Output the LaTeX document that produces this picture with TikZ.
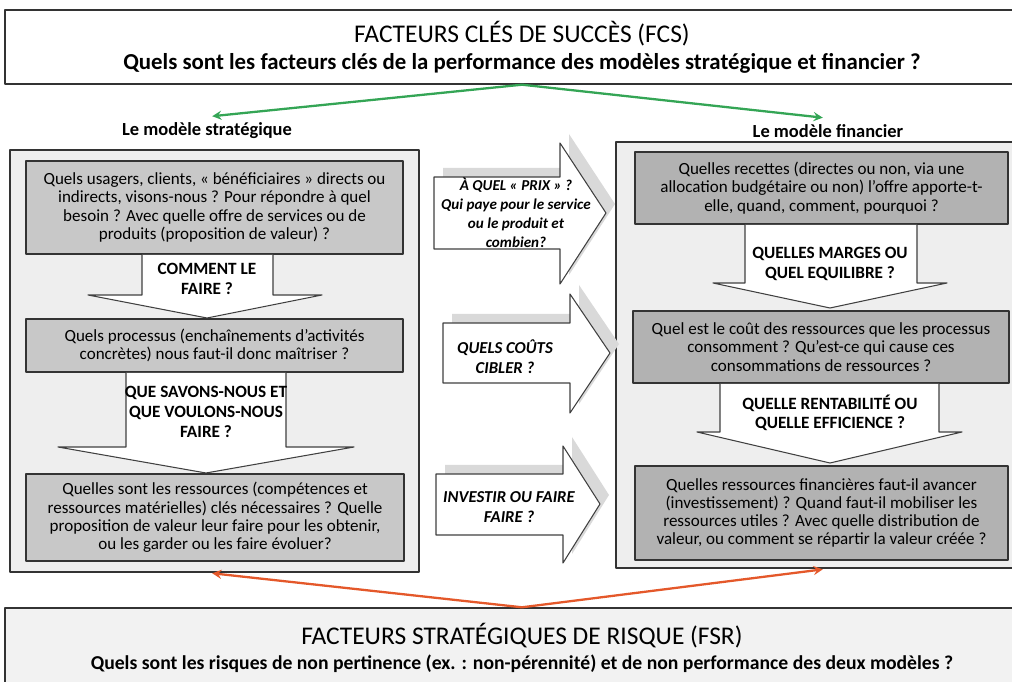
\documentclass[tikz,border=0pt]{standalone}
\usepackage{fontspec}
\setmainfont{Carlito}
\usetikzlibrary{positioning}
\definecolor{fondclair}{RGB}{238,238,238}
\definecolor{fondbas}{RGB}{242,242,242}
\definecolor{grisgauche}{RGB}{200,200,200}
\definecolor{grisdroite}{RGB}{178,178,178}
\definecolor{vertfleche}{RGB}{52,165,85}
\definecolor{orangefleche}{RGB}{228,88,42}
\begin{document}
\begin{tikzpicture}[x=0.02cm,y=-0.02cm,>=stealth, line join=round,
	cadre/.style={draw=black!80, line width=0.8pt, inner sep=0pt},
	grand/.style={cadre, fill=fondclair},
	question/.style={cadre, align=center, font=\fontsize{9.7}{10.4}\selectfont},
	bloc/.style={draw=black!75, fill=white, line width=0.6pt},
	ombre/.style={fill=black!15, draw=none},
	txtbloc/.style={align=center, font=\fontsize{9.8}{11.2}\selectfont\bfseries},
	txtmilieu/.style={align=center, font=\fontsize{9.5}{11.2}\selectfont\bfseries\itshape},
	titre/.style={font=\fontsize{10.5}{12}\selectfont\bfseries}]
	\def\u{0.02cm}
	\useasboundingbox (0,0) rectangle (1012,682);
	% cadres du haut et du bas
	\node[cadre, fill=white, minimum width=1034*\u, minimum height=74*\u, align=center] (fcs) at (522,47)
		{\fontsize{14.5}{17}\selectfont FACTEURS CLÉS DE SUCCÈS (FCS)\\[3.5pt]
		 \fontsize{13}{15}\selectfont\bfseries Quels sont les facteurs clés de la performance des modèles stratégique et financier ?};
	\node[cadre, fill=fondbas, minimum width=1034*\u, minimum height=80*\u, align=center] (fsr) at (522,648)
		{\fontsize{14.5}{17}\selectfont FACTEURS STRATÉGIQUES DE RISQUE (FSR)\\[2.5pt]
		 \fontsize{11.2}{13}\selectfont\bfseries Quels sont les risques de non pertinence (ex. : non-pérennité) et de non performance des deux modèles ?};
	\node[titre] (strat) at (207,131) {Le modèle stratégique};
	\node[titre] (fin) at (828,131) {Le modèle financier};
	% modele strategique
	\node[grand, minimum width=409*\u, minimum height=422*\u] (gauche) at (214.5,361) {};
	\node[question, fill=grisgauche, minimum width=377*\u, minimum height=93*\u] (g1) at (214.5,207.5)
		{Quels usagers, clients, « bénéficiaires » directs ou\\indirects, visons-nous  ? Pour répondre à quel\\besoin ? Avec quelle offre de services ou de\\produits (proposition de valeur) ?};
	\node[question, fill=grisgauche, minimum width=377*\u, minimum height=53*\u] (g2) at (214.5,345.5)
		{Quels processus (enchaînements d’activités\\concrètes) nous faut-il donc maîtriser ?};
	\node[question, fill=grisgauche, minimum width=378*\u, minimum height=87*\u] (g3) at (215,517.5)
		{Quelles sont les ressources (compétences et\\ressources matérielles) clés nécessaires  ? Quelle\\proposition de valeur leur faire pour les obtenir,\\ou les garder ou les faire évoluer?};
	\draw[bloc] (142,255)--(142,295)--(88,295)--(207,318)--(322,295)--(273,295)--(273,255);
	\node[txtbloc] (comment) at (207,279) {COMMENT LE\\FAIRE ?};
	\draw[bloc] (126,373)--(126,447)--(58,447)--(206,473)--(354,447)--(286,447)--(286,373);
	\node[txtbloc] (savoir) at (206,412) {QUE SAVONS-NOUS ET\\QUE VOULONS-NOUS\\FAIRE ?};
	% modele financier
	\node[grand, minimum width=424*\u, minimum height=426*\u] (droite) at (828,355) {};
	\node[question, fill=grisdroite, minimum width=373*\u, minimum height=72*\u] (d1) at (821.5,188)
		{Quelles recettes (directes ou non, via une\\allocation  budgétaire ou non) l’offre apporte-t-\\elle, quand, comment, pourquoi ?};
	\node[question, fill=grisdroite, minimum width=376*\u, minimum height=72*\u] (d2) at (821,347)
		{Quel est le coût des ressources que les processus\\consomment ? Qu’est-ce qui cause ces\\consommations de ressources ?};
	\node[question, fill=grisdroite, minimum width=373*\u, minimum height=94*\u] (d3) at (821.5,513)
		{Quelles ressources financières faut-il avancer\\(investissement) ? Quand faut-il mobiliser les\\ressources utiles ? Avec quelle distribution de\\valeur, ou comment se répartir la valeur créée ?};
	\draw[bloc] (745,225)--(745,283)--(713,283)--(830,308)--(947,283)--(917,283)--(917,225);
	\node[txtbloc] (marges) at (830,264) {QUELLES MARGES  OU\\QUEL  EQUILIBRE  ?};
	\draw[bloc] (720,384)--(720,432)--(697,432)--(830,463)--(962,432)--(939,432)--(939,384);
	\node[txtbloc] (rentab) at (830,413) {QUELLE RENTABILITÉ  OU\\QUELLE EFFICIENCE  ?};
	% fleches du milieu
	\fill[ombre, shift={(9,-9)}] (434,177)--(560,177)--(560,143)--(606,213)--(560,284)--(560,249)--(434,249)--cycle;
	\draw[bloc] (434,177)--(560,177)--(560,143)--(606,213)--(560,284)--(560,249)--(434,249)--cycle;
	\node[txtmilieu, font=\fontsize{8.6}{10.8}\selectfont\bfseries\itshape] (prix) at (516,213) {À QUEL « PRIX » ?\\Qui paye pour le service\\ou le produit et\\combien?};
	\fill[ombre, shift={(9,-9)}] (443,323)--(570,323)--(570,294)--(610,353)--(570,413)--(570,383)--(443,383)--cycle;
	\draw[bloc] (443,323)--(570,323)--(570,294)--(610,353)--(570,413)--(570,383)--(443,383)--cycle;
	\node[txtmilieu] (couts) at (505,357) {QUELS COÛTS\\CIBLER ?};
	\fill[ombre, shift={(9,-9)}] (436,474)--(563,474)--(563,446)--(600,504)--(563,563)--(563,535)--(436,535)--cycle;
	\draw[bloc] (436,474)--(563,474)--(563,446)--(600,504)--(563,563)--(563,535)--(436,535)--cycle;
	\node[txtmilieu] (investir) at (509,507) {INVESTIR  OU FAIRE\\FAIRE ?};
	% fleches de couleur
	\draw[->, vertfleche, line width=1.3pt, shorten >=3pt] (fcs.south) -- (strat.north);
	\draw[->, vertfleche, line width=1.3pt, shorten >=3pt] (fcs.south) -- (fin.north);
	\draw[->, orangefleche, line width=1.3pt, shorten >=3pt] (fsr.north) -- (strat |- gauche.south);
	\draw[->, orangefleche, line width=1.3pt, shorten >=3pt] (fsr.north) -- (fin |- droite.south);
\end{tikzpicture}
\end{document}
